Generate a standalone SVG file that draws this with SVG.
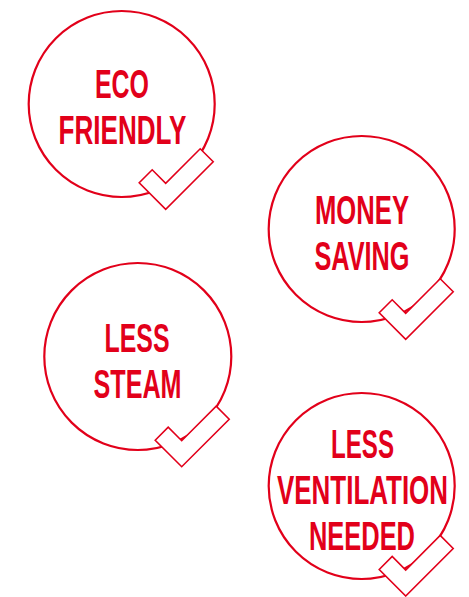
<svg xmlns="http://www.w3.org/2000/svg" xmlns:xlink="http://www.w3.org/1999/xlink" width="469" height="597" viewBox="0 0 469 597">
<style>
.ring{fill:none;stroke:#e2001a;stroke-width:2.2}
.tick{fill:#ffffff;stroke:#e2001a;stroke-width:1.6;stroke-linejoin:miter}
.lbl{fill:#e2001a;font-family:"Liberation Sans Narrow","Liberation Sans",Arial,sans-serif;font-weight:bold;font-size:40.5px;text-anchor:middle}
</style>
<defs>
<polygon id="check" points="-26.5,-26.5 -13.5,-39.5 0,-26 34.5,-60.5 47.5,-47.5 0,0"/>
</defs>
<rect width="469" height="597" fill="#ffffff"/>
<g id="node-eco">
<circle class="ring" cx="121.7" cy="104" r="93"/>
<use xlink:href="#check" class="tick" transform="translate(165.7,209.3)"/>
<text class="lbl" x="122" y="97.5" textLength="54" lengthAdjust="spacingAndGlyphs">ECO</text>
<text class="lbl" x="122.5" y="144" textLength="128" lengthAdjust="spacingAndGlyphs">FRIENDLY</text>
</g>
<g id="node-money">
<circle class="ring" cx="361.7" cy="229" r="93"/>
<use xlink:href="#check" class="tick" transform="translate(405.7,339.3)"/>
<text class="lbl" x="362" y="224" textLength="94" lengthAdjust="spacingAndGlyphs">MONEY</text>
<text class="lbl" x="362" y="270" textLength="95" lengthAdjust="spacingAndGlyphs">SAVING</text>
</g>
<g id="node-steam">
<circle class="ring" cx="137.8" cy="356.5" r="93.5"/>
<use xlink:href="#check" class="tick" transform="translate(181.7,466.7)"/>
<text class="lbl" x="137" y="352" textLength="65" lengthAdjust="spacingAndGlyphs">LESS</text>
<text class="lbl" x="137.5" y="398" textLength="88" lengthAdjust="spacingAndGlyphs">STEAM</text>
</g>
<g id="node-ventilation">
<circle class="ring" cx="361.7" cy="486" r="93"/>
<use xlink:href="#check" class="tick" transform="translate(405.7,596)"/>
<text class="lbl" x="362.5" y="457.5" textLength="63" lengthAdjust="spacingAndGlyphs">LESS</text>
<text class="lbl" x="362.5" y="503.5" textLength="171" lengthAdjust="spacingAndGlyphs">VENTILATION</text>
<text class="lbl" x="362" y="549.5" textLength="106" lengthAdjust="spacingAndGlyphs">NEEDED</text>
</g>
<g id="connectors"/>
</svg>
